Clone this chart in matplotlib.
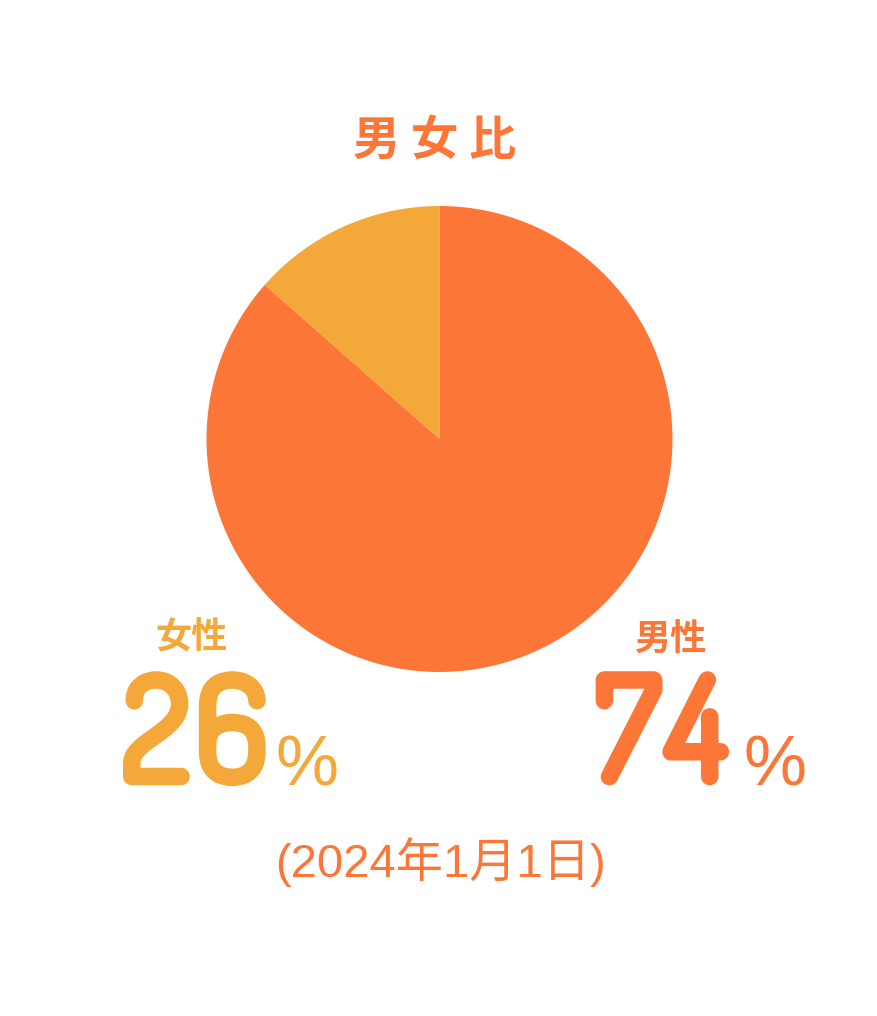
import matplotlib
matplotlib.use("Agg")
import matplotlib.pyplot as plt
import matplotlib.patheffects as pe
from matplotlib import font_manager

# values printed on the chart
labels = ["女性", "男性"]
percent_labels = [26, 74]
# slice sizes as they are drawn in the picture (the drawn wedge is much smaller than 26%)
slice_share = [13.5, 86.5]
title = "男 女 比"
date_note = "(2024年1月1日)"

orange = "#FC7637"
yellow = "#F4A83A"
colors = [yellow, orange]

installed = set(f.name for f in font_manager.fontManager.ttflist)

def pick(*names):
    found = [n for n in names if n in installed]
    return found + ["DejaVu Sans"]

cjk = pick("Noto Sans CJK JP")
num = pick("Dosis", "Liberation Sans")
pct = pick("Liberation Sans")

W, H = 878, 1016
fig = plt.figure(figsize=(W / 100, H / 100), dpi=100)
fig.patch.set_facecolor("white")

def fx(px):
    return px / W

def fy(py):
    return 1 - py / H

def fat(color, width):
    # thin font drawn with a round stroke gives the heavy rounded digits
    return [pe.Stroke(linewidth=width, foreground=color, joinstyle="round",
                      capstyle="round"), pe.Normal()]

def big_number(value, centers, color):
    for ch, x in zip(str(value), centers):
        fig.text(fx(x), fy(779), ch, ha="center", va="baseline", fontsize=100,
                 color=color, family=num, path_effects=fat(color, 9))

# pie
cx, cy, r = 439.5, 439, 233
ax = fig.add_axes([fx(cx - r), fy(cy + r), 2 * r / W, 2 * r / H])
ax.pie(slice_share, colors=colors, startangle=90, counterclock=True,
       radius=1, wedgeprops=dict(linewidth=0))
ax.set_xlim(-1, 1)
ax.set_ylim(-1, 1)
ax.set_aspect("equal")
ax.set_axis_off()

fig.text(fx(435), fy(141), title, ha="center", va="center", fontsize=34,
         fontweight="bold", color=orange, family=cjk)

# left label (female)
fig.text(fx(192), fy(638), labels[0], ha="center", va="center", fontsize=26,
         fontweight="bold", color=yellow, family=cjk)
big_number(percent_labels[0], [156, 231], yellow)
fig.text(fx(276), fy(785), "%", ha="left", va="baseline", fontsize=51,
         color=yellow, family=pct)

# right label (male)
fig.text(fx(670), fy(640), labels[1], ha="center", va="center", fontsize=26,
         fontweight="bold", color=orange, family=cjk)
big_number(percent_labels[1], [628, 696], orange)
fig.text(fx(744), fy(785), "%", ha="left", va="baseline", fontsize=51,
         color=orange, family=pct)

fig.text(fx(440), fy(862), date_note, ha="center", va="center", fontsize=34,
         color=orange, family=pick("Liberation Sans", "Noto Sans CJK JP"))

fig.savefig("out.png", dpi=100, facecolor="white")
